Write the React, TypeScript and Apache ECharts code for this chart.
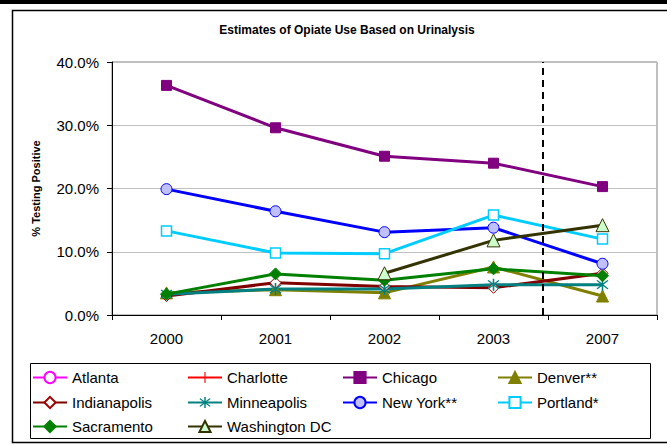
import React, { useEffect, useRef } from "react";
import * as echarts from "echarts";

const years = ["2000", "2001", "2002", "2003", "2007"];
const atlanta: (number | null)[] = [null, null, null, null, null];
const charlotte: (number | null)[] = [null, null, null, null, null];
const chicago = [36.3, 29.6, 25.1, 24.0, 20.3];
const denver = [3.5, 4.0, 3.5, 7.6, 3.0];
const indianapolis = [3.0, 5.1, 4.5, 4.3, 6.6];
const minneapolis = [3.3, 4.1, 4.1, 4.8, 4.8];
const newYork = [19.9, 16.4, 13.1, 13.8, 8.1];
const portland = [13.3, 9.8, 9.7, 15.8, 12.0];
const sacramento = [3.3, 6.5, 5.5, 7.3, 6.2];
const washingtonDC: (number | null)[] = [null, null, 6.6, 11.8, 14.2];
const yTicks = [0, 10, 20, 30, 40];
const dividerPosition = 3.45; // between 2003 and 2007

const ASTERISK =
  "path://M9,0L11,0L11,20L9,20Z M2.3,3.7L3.7,2.3L17.7,16.3L16.3,17.7Z M16.3,2.3L17.7,3.7L3.7,17.7L2.3,16.3Z";
const PLUS =
  "path://M9,0L11,0L11,9L20,9L20,11L11,11L11,20L9,20L9,11L0,11L0,9L9,9Z";

const FONT = "Arial, 'Liberation Sans', sans-serif";

type Def = {
  name: string;
  data: (number | null)[];
  line: string;
  symbol: string;
  size: number;
  fill: string;
  border: string;
  borderWidth: number;
};

const defs: Def[] = [
  { name: "Atlanta", data: atlanta, line: "#ff00ff", symbol: "circle", size: 10, fill: "#ffffff", border: "#ff00ff", borderWidth: 1 },
  { name: "Charlotte", data: charlotte, line: "#ff0000", symbol: PLUS, size: 11, fill: "#ff0000", border: "#ff0000", borderWidth: 0 },
  { name: "Chicago", data: chicago, line: "#800080", symbol: "rect", size: 10, fill: "#800080", border: "#800080", borderWidth: 1 },
  { name: "Denver**", data: denver, line: "#808000", symbol: "triangle", size: 12, fill: "#808000", border: "#808000", borderWidth: 1 },
  { name: "Indianapolis", data: indianapolis, line: "#800000", symbol: "diamond", size: 11, fill: "#ffffff", border: "#a00000", borderWidth: 1 },
  { name: "Minneapolis", data: minneapolis, line: "#008080", symbol: ASTERISK, size: 12, fill: "#008080", border: "#008080", borderWidth: 0 },
  { name: "New York**", data: newYork, line: "#0000ff", symbol: "circle", size: 11, fill: "#c0c0ff", border: "#0000ff", borderWidth: 1 },
  { name: "Portland*", data: portland, line: "#00ccff", symbol: "rect", size: 10, fill: "#ffffff", border: "#00ccff", borderWidth: 1.5 },
  { name: "Sacramento", data: sacramento, line: "#008000", symbol: "diamond", size: 12, fill: "#008000", border: "#008000", borderWidth: 1 },
  { name: "Washington DC", data: washingtonDC, line: "#333300", symbol: "triangle", size: 13, fill: "#ccffcc", border: "#333300", borderWidth: 1 },
];

export default function App() {
  const ref = useRef<HTMLDivElement>(null);
  useEffect(() => {
    if (!ref.current) return;
    const chart = echarts.init(ref.current, undefined, { renderer: "svg" });

    const rowCenters = [377, 402, 426];
    const legends = defs.map((d, i) => ({
      show: true,
      data: [d.name],
      left: 27 + (i % 4) * 155,
      top: rowCenters[Math.floor(i / 4)] - 12,
      itemWidth: 34,
      itemHeight: 14,
      selectedMode: false,
      textStyle: { fontFamily: FONT, fontSize: 15, color: "#000" },
    }));

    chart.setOption({
      animation: false,
      backgroundColor: "#ffffff",
      textStyle: { fontFamily: FONT },
      title: {
        text: "Estimates of Opiate Use Based on Urinalysis",
        left: 342,
        textAlign: "center",
        top: 19,
        textStyle: { fontFamily: FONT, fontSize: 12, fontWeight: "bold", color: "#000" },
      },
      legend: legends,
      grid: {
        left: 112,
        right: 10,
        top: 62,
        bottom: 130,
        show: true,
        borderColor: "#808080",
        borderWidth: 1,
        backgroundColor: "#ffffff",
      },
      xAxis: [
        {
          type: "category",
          data: years,
          boundaryGap: true,
          axisLine: { lineStyle: { color: "#000", width: 1 } },
          axisTick: { show: true, length: 5, lineStyle: { color: "#000" } },
          axisLabel: { fontFamily: FONT, fontSize: 15, color: "#000", margin: 16 },
        },
        {
          type: "value",
          min: -0.5,
          max: 4.5,
          show: false,
        },
      ],
      yAxis: {
        type: "value",
        min: 0,
        max: 40,
        interval: 10,
        name: "% Testing Positive",
        nameLocation: "middle",
        nameGap: 71,
        nameTextStyle: { fontFamily: FONT, fontSize: 11, fontWeight: "bold", color: "#000" },
        axisLine: { show: true, onZero: false, lineStyle: { color: "#000", width: 1 } },
        axisTick: { show: true, length: 5, lineStyle: { color: "#000" } },
        axisLabel: {
          fontFamily: FONT,
          fontSize: 15,
          color: "#000",
          margin: 13,
          formatter: (v: number) => (yTicks.includes(v) ? v.toFixed(1) + "%" : ""),
        },
        splitLine: { show: true, lineStyle: { color: "#c0c0c0", width: 1 } },
      },
      series: [
        ...defs.map((d) => ({
          name: d.name,
          type: "line",
          data: d.data,
          connectNulls: false,
          symbol: d.symbol,
          symbolSize: d.size,
          showAllSymbol: true,
          lineStyle: { color: d.line, width: 3 },
          itemStyle: { color: d.fill, borderColor: d.border, borderWidth: d.borderWidth },
          emphasis: { disabled: true },
        })),
        {
          name: "divider",
          type: "line",
          xAxisIndex: 1,
          yAxisIndex: 0,
          data: [],
          markLine: {
            silent: true,
            symbol: ["none", "none"],
            label: { show: false },
            lineStyle: { color: "#000", type: [7, 5], width: 2 },
            data: [{ xAxis: dividerPosition }],
          },
        },
      ],
      graphic: [
        { type: "rect", shape: { x: 0, y: 0, width: 667, height: 4 }, style: { fill: "#000" }, z: 100 },
        {
          type: "rect",
          shape: { x: 12.5, y: 10.5, width: 700, height: 432 },
          style: { fill: "none", stroke: "#000", lineWidth: 1.5 },
          z: 100,
        },
        {
          type: "rect",
          shape: { x: 30.5, y: 363.5, width: 620, height: 75 },
          style: { fill: "none", stroke: "#000", lineWidth: 1 },
          z: 100,
        },
      ],
    });
    return () => chart.dispose();
  }, []);
  return <div ref={ref} style={{ width: 667, height: 445, position: "absolute", left: 0, top: 0 }} />;
}
